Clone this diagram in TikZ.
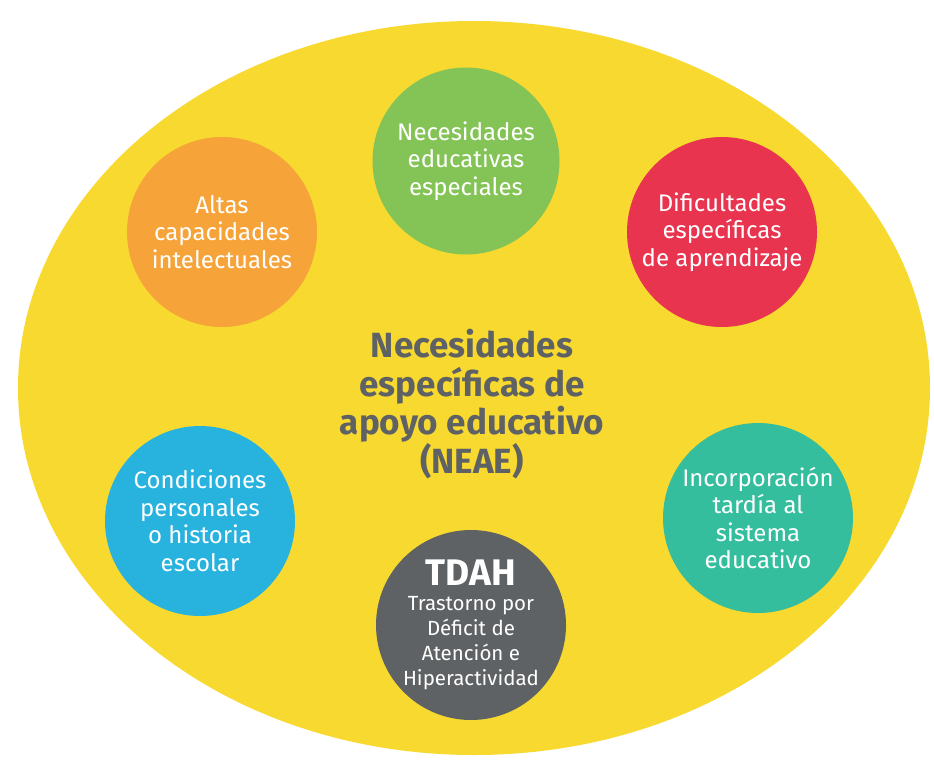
\documentclass[tikz,border=0pt]{standalone}
\usepackage{fontspec}
\setmainfont{Fira Sans}
\usetikzlibrary{shapes.geometric}

\definecolor{neaeyellow}{HTML}{F8D92F}
\definecolor{neaegreen}{HTML}{84C456}
\definecolor{neaeorange}{HTML}{F6A33A}
\definecolor{neaered}{HTML}{E8344F}
\definecolor{neaeblue}{HTML}{28B3DF}
\definecolor{neaeteal}{HTML}{34BE9E}
\definecolor{neaegray}{HTML}{5F6264}

\tikzset{
    bubble/.style={circle, minimum size=190pt, inner sep=0pt, align=center,
        text=white, font=\fontsize{24}{27.5}\selectfont}
}

\begin{document}
\begin{tikzpicture}[x=1pt, y=-1pt]
    \useasboundingbox[fill=white] (0,0) rectangle (934,766);

    % Draw outer ellipse
    \node[ellipse, fill=neaeyellow, minimum width=912pt, minimum height=734pt] (neae) at (474,388) {};

    % Draw bubbles
    \node[bubble, fill=neaegreen, minimum size=187pt] (nee) at (466,161) {Necesidades\\educativas\\especiales};
    \node[bubble, fill=neaeorange] (altas) at (222,232) {Altas\\capacidades\\intelectuales};
    \node[bubble, fill=neaered] (dea) at (722,232) {Dificultades\\específicas\\de aprendizaje};
    \node[bubble, fill=neaeblue] (cond) at (200,521) {Condiciones\\personales\\o historia\\escolar};
    \node[bubble, fill=neaeteal] (tardia) at (758,518) {Incorporación\\tardía al\\sistema\\educativo};
    \node[bubble, fill=neaegray, font=\fontsize{20.5}{25}\selectfont] (tdah) at (471,625)
        {{\fontsize{37}{38}\selectfont\bfseries TDAH}\\Trastorno por\\Déficit de\\Atención e\\Hiperactividad};

    % Center label
    \node[align=center, text=neaegray, font=\fontsize{35}{38.5}\selectfont\bfseries] (title) at (472,404)
        {Necesidades\\específicas de\\apoyo educativo\\(NEAE)};
\end{tikzpicture}
\end{document}
